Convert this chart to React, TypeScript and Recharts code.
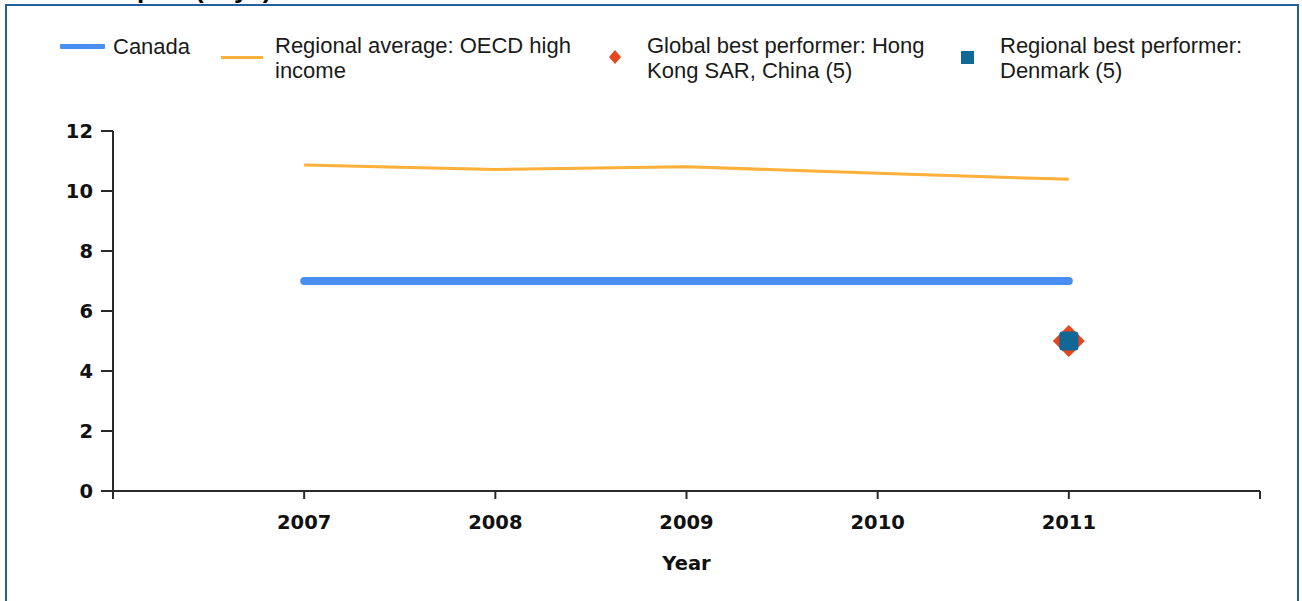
import React from 'react';
import { ComposedChart, Line, XAxis, YAxis, Legend } from 'recharts';

const titleText = 'Time to export (days)';
const years = [2007, 2008, 2009, 2010, 2011];
const canadaValues = [7, 7, 7, 7, 7];
const regionalAverageValues = [10.87, 10.72, 10.81, 10.59, 10.39];
const globalBestValues = [null, null, null, null, 5];
const regionalBestValues = [null, null, null, null, 5];
const xTicks = [2006, 2007, 2008, 2009, 2010, 2011, 2012];
const yTicks = [0, 2, 4, 6, 8, 10, 12];
const seriesNames = [
  'Canada',
  'Regional average: OECD high income',
  'Global best performer: Hong Kong SAR, China (5)',
  'Regional best performer: Denmark (5)',
];
const xAxisTitle = 'Year';

const CANADA = '#4B8EF1';
const REGIONAL = '#FFB03A';
const GLOBAL = '#E5461B';
const REGBEST = '#116795';
const BORDER = '#2460A0';
const AXIS = '#2a2a2a';

const data = years.map((y, i) => ({
  year: y,
  canada: canadaValues[i],
  regional: regionalAverageValues[i],
  globalBest: globalBestValues[i],
  regionalBest: regionalBestValues[i],
}));

const DiamondDot = (props: any) => {
  const { cx, cy, value, index } = props;
  if (value == null || cx == null || cy == null || isNaN(cy)) return <g key={`gd-${index}`} />;
  const r = 16;
  return (
    <path
      key={`gd-${index}`}
      d={`M${cx},${cy - r}L${cx + r},${cy}L${cx},${cy + r}L${cx - r},${cy}Z`}
      fill={GLOBAL}
    />
  );
};

const SquareDot = (props: any) => {
  const { cx, cy, value, index } = props;
  if (value == null || cx == null || cy == null || isNaN(cy)) return <g key={`rd-${index}`} />;
  const s = 19;
  return <rect key={`rd-${index}`} x={cx - s / 2} y={cy - s / 2} width={s} height={s} rx={3} fill={REGBEST} />;
};

const legendFont = '"Liberation Sans", Arial, sans-serif';

const LegendContent = () => {
  const left = [60, 221, 605, 957];
  const textLeft = [113, 275, 647, 1000];
  const textWidth = [200, 330, 300, 290];
  const swatches = [
    <div style={{ width: 45, height: 5, background: CANADA, borderRadius: 1 }} />,
    <div style={{ width: 42, height: 3, background: REGIONAL }} />,
    <svg width={14} height={16} style={{ marginLeft: 3 }}><path d="M7,1L13,8L7,15L1,8Z" fill={GLOBAL} /></svg>,
    <div style={{ width: 13, height: 13, background: REGBEST, marginLeft: 4 }} />,
  ];
  return (
    <div style={{ position: 'relative', width: 1302, height: 100 }}>
      {seriesNames.map((name, i) => (
        <div
          key={name}
          style={{
            position: 'absolute',
            left: left[i],
            top: 33,
            height: i === 0 ? 26 : 50,
            display: 'flex',
            alignItems: 'center',
          }}
        >
          <div style={{ width: textLeft[i] - left[i], display: 'flex', alignItems: 'center', marginTop: i === 0 ? 0 : -2 }}>
            {swatches[i]}
          </div>
          <div
            style={{
              width: textWidth[i],
              fontFamily: legendFont,
              fontSize: 22,
              lineHeight: '25px',
              color: '#1a1a1a',
            }}
          >
            {name}
          </div>
        </div>
      ))}
    </div>
  );
};

const tickFont = { fontFamily: '"DejaVu Sans", Verdana, sans-serif', fontSize: 19.5, fontWeight: 700, fill: '#111' };

export default function App() {
  return (
    <div
      style={{
        position: 'fixed',
        left: 0,
        top: 0,
        width: 1302,
        height: 601,
        overflow: 'hidden',
        background: '#fff',
      }}
    >
      <div
        style={{
          position: 'absolute',
          left: 9,
          top: -24,
          fontFamily: '"Liberation Sans", Arial, sans-serif',
          fontWeight: 700,
          fontSize: 26,
          lineHeight: '26px',
          color: '#000',
          whiteSpace: 'nowrap',
        }}
      >
        {titleText}
      </div>
      <div
        style={{
          position: 'absolute',
          left: 5,
          top: 4,
          width: 1290,
          height: 700,
          border: `2px solid ${BORDER}`,
        }}
      />
      <div style={{ position: 'absolute', left: 0, top: 0 }}>
        <ComposedChart
          width={1302}
          height={601}
          data={data}
          margin={{ top: 131, right: 42, bottom: 30, left: 53 }}
        >
          <XAxis
            dataKey="year"
            type="number"
            domain={[2006, 2012]}
            ticks={xTicks}
            allowDecimals={false}
            tickFormatter={(v: number) => (v === 2006 || v === 2012 ? '' : String(v))}
            tick={tickFont}
            tickSize={8}
            tickMargin={16}
            height={80}
            axisLine={{ stroke: AXIS, strokeWidth: 2 }}
            tickLine={{ stroke: AXIS, strokeWidth: 2 }}
            label={{ value: xAxisTitle, position: 'insideBottom', offset: 1, style: tickFont }}
          />
          <YAxis
            type="number"
            domain={[0, 12]}
            ticks={yTicks}
            tick={tickFont}
            tickSize={12}
            tickMargin={8}
            width={60}
            axisLine={{ stroke: AXIS, strokeWidth: 2 }}
            tickLine={{ stroke: AXIS, strokeWidth: 2 }}
          />
          <Legend
            verticalAlign="middle"
            layout="horizontal"
            content={LegendContent}
            wrapperStyle={{ left: 0, top: 0, width: 1302, height: 100 }}
          />
          <Line
            dataKey="canada"
            name={seriesNames[0]}
            stroke={CANADA}
            strokeWidth={8}
            strokeLinecap="round"
            dot={false}
            activeDot={false}
            isAnimationActive={false}
          />
          <Line
            dataKey="regional"
            name={seriesNames[1]}
            stroke={REGIONAL}
            strokeWidth={3}
            dot={false}
            activeDot={false}
            isAnimationActive={false}
          />
          <Line
            dataKey="globalBest"
            name={seriesNames[2]}
            stroke="none"
            dot={DiamondDot}
            activeDot={false}
            isAnimationActive={false}
          />
          <Line
            dataKey="regionalBest"
            name={seriesNames[3]}
            stroke="none"
            dot={SquareDot}
            activeDot={false}
            isAnimationActive={false}
          />
        </ComposedChart>
      </div>
    </div>
  );
}
